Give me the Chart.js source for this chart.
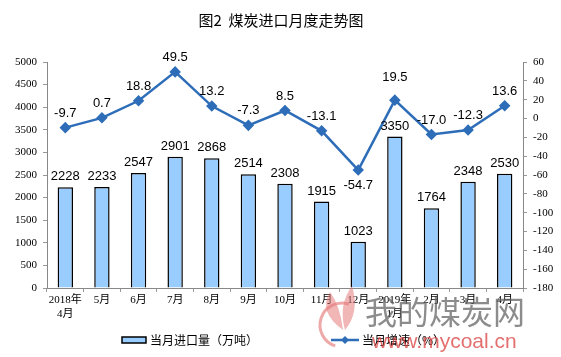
<!DOCTYPE html>
<html><head><meta charset="utf-8">
<script src="https://cdn.jsdelivr.net/npm/chart.js@4/dist/chart.umd.min.js"></script>
<style>html,body{margin:0;padding:0;background:#fff}#wrap{width:561px;height:357px}</style>
</head><body><div id="wrap"><canvas id="c" width="561" height="357"></canvas></div>
<script>
const categories = [["2018年","4月"],"5月","6月","7月","8月","9月","10月","11月","12月",["2019年","1月"],"2月","3月","4月"];
const importVolume = [2228,2233,2547,2901,2868,2514,2308,1915,1023,3350,1764,2348,2530];
const growthRate = [-9.7,0.7,18.8,49.5,13.2,-7.3,8.5,-13.1,-54.7,19.5,-17.0,-12.3,13.6];
const titleText = "图2  煤炭进口月度走势图";
const legendLabels = ["当月进口量（万吨）","当月增速（%）"];

const labelPlugin = {
  id:'labels',
  afterDatasetsDraw(chart){
    const ctx = chart.ctx;
    ctx.save();
    ctx.font = '13px "Liberation Sans", Arial, sans-serif';
    ctx.fillStyle = '#000';
    ctx.textAlign = 'center';
    const bars = chart.getDatasetMeta(0).data;
    bars.forEach((b,i)=>{
      ctx.textBaseline='bottom';
      ctx.fillText(String(importVolume[i]), b.x, b.y-4);
    });
    const pts = chart.getDatasetMeta(1).data;
    pts.forEach((p,i)=>{
      const v = growthRate[i];
      const t = v.toFixed(1);
      if (i===8){ ctx.textBaseline='top'; ctx.fillText(t,p.x,p.y+9); }
      else if (i===9){ ctx.textBaseline='bottom'; ctx.fillText(t,p.x,p.y-16); }
      else { ctx.textBaseline='bottom'; ctx.fillText(t,p.x,p.y-8); }
    });
    ctx.restore();
  },
  afterDraw(chart){
    const ctx = chart.ctx;
    ctx.save();
    ctx.font = '15px "Noto Sans CJK SC", sans-serif';
    ctx.fillStyle = '#000';
    ctx.textAlign='center'; ctx.textBaseline='middle';
    ctx.fillText(titleText, 281, 20);
    ctx.font = '12px "Noto Sans CJK SC", sans-serif';
    ctx.textAlign='left';
    ctx.fillStyle='#99CCFF'; ctx.strokeStyle='#000'; ctx.lineWidth=1.5;
    ctx.fillRect(122,337,24,6); ctx.strokeRect(122,337,24,6);
    ctx.fillStyle='#000';
    ctx.fillText(legendLabels[0],150,340);
    ctx.strokeStyle='#2E6DB8'; ctx.lineWidth=2.5;
    ctx.beginPath(); ctx.moveTo(331,340); ctx.lineTo(359,340); ctx.stroke();
    ctx.fillStyle='#2E6DB8';
    ctx.beginPath(); ctx.moveTo(345,336); ctx.lineTo(349,340); ctx.lineTo(345,344); ctx.lineTo(341,340); ctx.closePath(); ctx.fill();
    ctx.fillStyle='#000';
    ctx.fillText(legendLabels[1],362,340);
    ctx.globalAlpha=0.75;
    ctx.font = '32px "Noto Sans CJK SC", sans-serif';
    ctx.fillStyle='#666';
    ctx.fillText('我的煤炭网',365,312);
    ctx.font = '21px "Liberation Sans", sans-serif';
    ctx.fillStyle='#D9403F';
    ctx.fillText('www.mycoal.cn',372,342);
    ctx.globalAlpha=0.55;
    ctx.strokeStyle='#E06060'; ctx.lineWidth=3;
    ctx.beginPath(); ctx.arc(342,325,22,Math.PI*0.6,Math.PI*1.6); ctx.stroke();
    ctx.fillStyle='#E57A7A';
    ctx.beginPath(); ctx.moveTo(343,330); ctx.quadraticCurveTo(318,312,330,292); ctx.quadraticCurveTo(340,305,343,330); ctx.fill();
    ctx.beginPath(); ctx.moveTo(345,330); ctx.quadraticCurveTo(338,305,352,286); ctx.quadraticCurveTo(360,312,345,330); ctx.fill();
    ctx.restore();
  }
};

new Chart(document.getElementById('c'), {
  data:{
    labels: categories,
    datasets:[
      {type:'bar', data: importVolume, yAxisID:'y', backgroundColor:'#99CCFF', borderColor:'#000', borderWidth:1.5, barPercentage:0.42, categoryPercentage:1, order:2},
      {type:'line', data: growthRate, yAxisID:'y2', borderColor:'#2E6DB8', borderWidth:2.5, pointStyle:'rectRot', pointRadius:4, pointBackgroundColor:'#2E6DB8', pointBorderColor:'#2E6DB8', tension:0, order:1}
    ]
  },
  options:{
    responsive:false, animation:false,
    layout:{padding:{top:62,left:0,right:0,bottom:0}},
    plugins:{legend:{display:false}, title:{display:false}, tooltip:{enabled:false}},
    scales:{
      x:{offset:true, grid:{display:true, offset:true, drawOnChartArea:false, tickLength:4, color:'#999'}, border:{color:'#888'},
         ticks:{font:{family:'"Liberation Serif","Noto Sans CJK SC",serif', size:11}, color:'#000', maxRotation:0, autoSkip:false, padding:2},
         afterFit(s){ s.height = 69; }},
      y:{position:'left', min:0, max:5000, ticks:{stepSize:500, callback:v=>String(v), font:{family:'"Liberation Serif",serif', size:11}, color:'#000', padding:6},
         grid:{drawOnChartArea:false, tickLength:4, color:'#999'}, border:{color:'#888'},
         afterFit(s){ s.width = 47; }},
      y2:{position:'right', min:-180, max:60, ticks:{stepSize:20, callback:v=>String(v), font:{family:'"Liberation Serif",serif', size:11}, color:'#000', padding:6},
         grid:{drawOnChartArea:false, tickLength:4, color:'#999'}, border:{color:'#888'},
         afterFit(s){ s.width = 38; }}
    }
  },
  plugins:[labelPlugin]
});
</script></body></html>
